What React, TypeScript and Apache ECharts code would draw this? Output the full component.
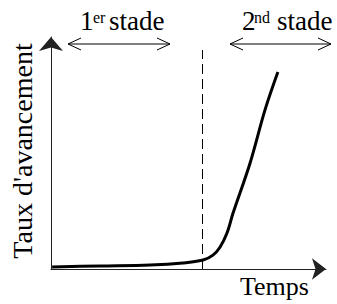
import React, { useEffect, useRef } from "react";
import * as echarts from "echarts";

const timeValues = [0.4, 17.8, 36.0, 48.0, 55.3, 58.9, 61.5, 64.0, 66.2, 72.4, 77.8, 82.5];
const progressValues = [0.9, 1.3, 1.7, 2.6, 3.9, 6.0, 9.5, 15.5, 24.1, 45.7, 68.5, 84.9];
const stageBoundary = 54.9;
const boundaryTop = 94.4;
const xName = "Temps";
const yName = "Taux d'avancement";

const FONT = "Liberation Serif";

function chevronArrow(x1: number, x2: number, y: number) {
  const L = 13, H = 6;
  const st = { stroke: "#000", lineWidth: 1, fill: null };
  return {
    type: "group",
    children: [
      { type: "line", shape: { x1, y1: y, x2, y2: y }, style: st },
      { type: "polyline", shape: { points: [[x1 + L, y - H], [x1, y], [x1 + L, y + H]] }, style: st },
      { type: "polyline", shape: { points: [[x2 - L, y - H], [x2, y], [x2 - L, y + H]] }, style: st },
    ],
  };
}

function txt(text: string, x: number, baseline: number, fs: number, align = "left") {
  return {
    type: "text",
    x,
    y: baseline - 0.34 * fs,
    style: { text, fontSize: fs, fontFamily: FONT, fill: "#000", align, verticalAlign: "middle" },
  };
}

export default function App() {
  const ref = useRef<HTMLDivElement>(null);
  useEffect(() => {
    const chart = echarts.init(ref.current!, null, { renderer: "svg" });
    const data = timeValues.map((t, i) => [t, progressValues[i]]);
    chart.setOption({
      animation: false,
      backgroundColor: "#fff",
      grid: { left: 51, right: 11, top: 37, bottom: 35 },
      xAxis: {
        type: "value",
        min: 0,
        max: 100,
        axisLine: {
          show: true,
          lineStyle: { color: "#222", width: 1 },
          symbol: ["none", "arrow"],
          symbolSize: [16, 14],
        },
        axisTick: { show: false },
        axisLabel: { show: false },
        splitLine: { show: false },
      },
      yAxis: {
        type: "value",
        min: 0,
        max: 100,
        axisLine: {
          show: true,
          lineStyle: { color: "#222", width: 1 },
          symbol: ["none", "arrow"],
          symbolSize: [18, 14],
        },
        axisTick: { show: false },
        axisLabel: { show: false },
        splitLine: { show: false },
      },
      series: [
        {
          type: "line",
          data,
          smooth: 0.35,
          showSymbol: false,
          lineStyle: { color: "#000", width: 3 },
          markLine: {
            silent: true,
            symbol: ["none", "none"],
            label: { show: false },
            lineStyle: { color: "#000", width: 1, type: [10, 5] },
            data: [[{ coord: [stageBoundary, 0] }, { coord: [stageBoundary, boundaryTop] }]],
          },
        },
      ],
      graphic: [
        chevronArrow(68, 170, 44),
        chevronArrow(230, 331, 44),
        txt("1", 80, 30, 27),
        txt("er", 93, 23, 16),
        txt("stade", 109, 30, 27),
        txt("2", 242, 30, 27),
        txt("nd", 254, 23, 16),
        txt("stade", 277, 30, 27),
        txt(xName, 240, 295, 26),
        {
          type: "text",
          x: 22.5,
          y: 151,
          rotation: Math.PI / 2,
          style: {
            text: yName,
            fontSize: 28,
            fontFamily: FONT,
            fill: "#000",
            align: "center",
            verticalAlign: "middle",
          },
        },
      ],
    });
    return () => chart.dispose();
  }, []);
  return (
    <div
      ref={ref}
      style={{ position: "fixed", left: 0, top: 0, width: 337, height: 304, background: "#fff" }}
    />
  );
}
